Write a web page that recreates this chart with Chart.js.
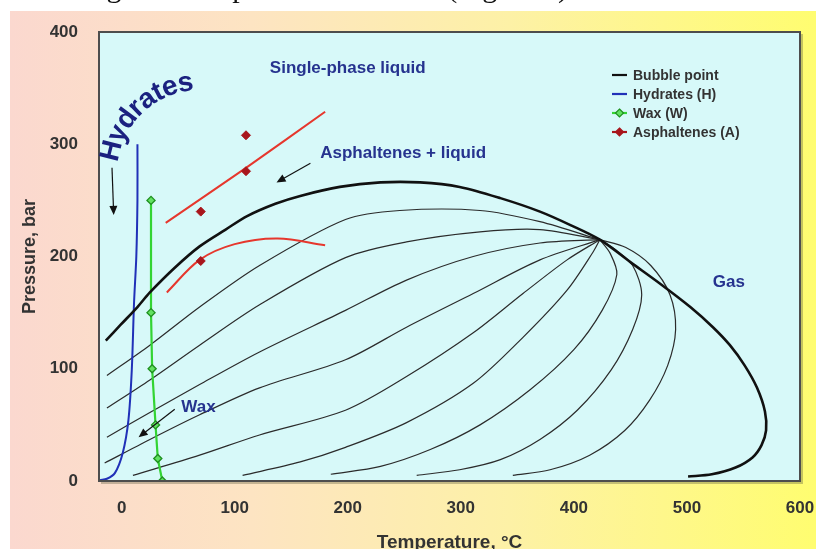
<!DOCTYPE html>
<html>
<head>
<meta charset="utf-8">
<script src="https://cdn.jsdelivr.net/npm/chart.js@4.4.1/dist/chart.umd.min.js"></script>
<style>
  html, body { margin: 0; padding: 0; background: #fff; overflow: hidden; }
  #wrap { position: relative; width: 816px; height: 549px; }
</style>
</head>
<body>
<div id="wrap"><canvas id="c" width="816" height="549"></canvas></div>
<script>
// Axis ticks: temperature (°C) and pressure (bar)
const xTicks = [0, 100, 200, 300, 400, 500, 600];
const yTicks = [0, 100, 200, 300, 400];

// Bubble point / dew point envelope (°C, bar)
const bubbleT = [-14, -1, 14, 25, 47, 69, 92, 111, 136, 158, 193, 229, 264, 299, 335, 370, 397, 423, 450, 476, 503, 523, 538, 551, 562, 569, 570, 566, 558, 543, 522, 501];
const bubbleP = [125, 139, 155, 168, 190, 209, 224, 236, 247, 254, 262, 266, 266, 262, 252, 240, 228, 215, 195, 176, 155, 137, 121, 103, 83, 62, 45, 32, 21, 12, 6, 4];

// Hydrate formation curve
const hydrateT = [-19, -13, -6, 1, 6, 9, 11, 13, 14, 14];
const hydrateP = [1, 2, 7, 25, 54, 99, 159, 200, 250, 300];

// Wax appearance temperatures
const waxT = [26, 26, 27, 30, 32, 36];
const waxP = [250, 150, 100, 50, 20, 0];

// Asphaltene onset measurements
const asphT = [70, 110, 110, 70];
const asphP = [240, 276, 308, 196];

// Asphaltene upper and lower onset boundaries
const asphUpperT = [39, 110, 180];
const asphUpperP = [230, 279, 329];
const asphLowerT = [40, 69, 100, 138, 180];
const asphLowerP = [168, 197, 211, 216, 210];

// Constant liquid-fraction lines inside the two-phase region
const qualityT = [
  [-13, 25, 69, 122, 198, 246, 317, 370, 423],
  [-13, 25, 69, 122, 198, 252, 317, 370, 423],
  [-13, 25, 69, 122, 198, 252, 311, 370, 423],
  [-15, 25, 69, 122, 198, 252, 311, 370, 423],
  [10, 69, 122, 198, 252, 311, 355, 394, 423],
  [107, 158, 198, 252, 311, 355, 394, 417, 423],
  [185, 229, 273, 317, 361, 400, 425, 438, 432, 423],
  [261, 299, 335, 370, 403, 433, 452, 460, 452, 437, 423],
  [346, 379, 414, 445, 467, 483, 490, 485, 468, 446, 423]
];
const qualityP = [
  [94, 121, 155, 192, 233, 241, 241, 231, 215],
  [65, 90, 121, 157, 199, 213, 222, 224, 215],
  [39, 61, 86, 115, 152, 179, 200, 212, 215],
  [16, 37, 59, 83, 108, 137, 167, 197, 215],
  [5, 23, 41, 63, 93, 132, 167, 197, 215],
  [5, 17, 30, 52, 87, 128, 170, 204, 215],
  [6, 13, 28, 50, 81, 117, 152, 184, 203, 215],
  [5, 10, 19, 37, 63, 99, 135, 166, 192, 206, 215],
  [5, 10, 23, 45, 72, 103, 135, 166, 192, 208, 215]
];

const pts = (T, P) => T.map((t, i) => ({ x: t, y: P[i] }));

const NAVY = '#26338f';
const SANS = '"Liberation Sans", Arial, Helvetica, sans-serif';

const datasets = [
  { label: 'Bubble point', data: pts(bubbleT, bubbleP), showLine: true, borderColor: '#111111',
    borderWidth: 2.6, pointRadius: 0, tension: 0.3 },
  { label: 'Hydrates (H)', data: pts(hydrateT, hydrateP), showLine: true, borderColor: '#2031b8',
    borderWidth: 2, pointRadius: 0, tension: 0.3 },
  { label: 'Wax (W)', data: pts(waxT, waxP), showLine: true, borderColor: '#33d433', borderWidth: 2.2,
    tension: 0, pointStyle: 'rectRot', pointRadius: 4, pointBackgroundColor: '#62e262',
    pointBorderColor: '#1f901f', pointBorderWidth: 1.4 },
  { label: 'Asphaltenes (A)', data: pts(asphT, asphP), showLine: false, borderColor: '#a8161c',
    backgroundColor: '#a8161c', pointStyle: 'rectRot', pointRadius: 4.5 },
  { label: 'asph-upper', data: pts(asphUpperT, asphUpperP), showLine: true, borderColor: '#e6372d',
    borderWidth: 2, pointRadius: 0, tension: 0.3 },
  { label: 'asph-lower', data: pts(asphLowerT, asphLowerP), showLine: true, borderColor: '#e6372d',
    borderWidth: 2, pointRadius: 0, tension: 0.35 }
];
qualityT.forEach((T, i) => datasets.push({
  label: 'q' + i, data: pts(T, qualityP[i]), showLine: true, borderColor: '#2b2b2b',
  borderWidth: 1.2, pointRadius: 0, tension: 0.3
}));
const legendCount = 4;

function arrow(ctx, x1, y1, x2, y2) {
  const a = Math.atan2(y2 - y1, x2 - x1), L = 9, W = 4;
  ctx.beginPath(); ctx.moveTo(x1, y1); ctx.lineTo(x2 - L * 0.6 * Math.cos(a), y2 - L * 0.6 * Math.sin(a)); ctx.stroke();
  ctx.beginPath();
  ctx.moveTo(x2, y2);
  ctx.lineTo(x2 - L * Math.cos(a) + W * Math.sin(a), y2 - L * Math.sin(a) - W * Math.cos(a));
  ctx.lineTo(x2 - L * Math.cos(a) - W * Math.sin(a), y2 - L * Math.sin(a) + W * Math.cos(a));
  ctx.closePath(); ctx.fill();
}

function arcText(ctx, text, cx, cy, r, startAng, spacing) {
  let ang = startAng;
  for (const ch of text) {
    const w = ctx.measureText(ch).width;
    ang += (w / 2) / r;
    ctx.save();
    ctx.translate(cx + r * Math.cos(ang), cy + r * Math.sin(ang));
    ctx.rotate(ang + Math.PI / 2);
    ctx.fillText(ch, 0, 0);
    ctx.restore();
    ang += (w / 2 + spacing) / r;
  }
}

const backdrop = {
  id: 'backdrop',
  beforeDraw(chart) {
    const { ctx, chartArea: a, width, height } = chart;
    ctx.save();
    ctx.fillStyle = '#ffffff';
    ctx.fillRect(0, 0, width, height);
    const g = ctx.createLinearGradient(10, 0, width, 0);
    g.addColorStop(0, '#fbd8cf');
    g.addColorStop(0.3, '#fde4c2');
    g.addColorStop(0.62, '#fdf1a6');
    g.addColorStop(1, '#fffd70');
    ctx.fillStyle = g;
    ctx.fillRect(10, 11, width - 10, height - 11);
    // line of page text above the figure
    ctx.font = '30px "Liberation Serif", "Times New Roman", serif';
    ctx.fillStyle = '#111';
    ctx.textAlign = 'right';
    ctx.textBaseline = 'alphabetic';
    ctx.fillText('Solids forming near the phase boundaries (Figure 1)', 568, -3);
    // plot panel
    ctx.fillStyle = 'rgba(90,90,60,0.35)';
    ctx.fillRect(a.left + 2, a.top + 2, a.width + 1, a.height + 1);
    ctx.fillStyle = '#d7f9f9';
    ctx.fillRect(a.left, a.top, a.width, a.height);
    ctx.restore();
  },
  afterDatasetsDraw(chart) {
    const { ctx, chartArea: a, scales: { x, y } } = chart;
    const px = (t) => x.getPixelForValue(t), py = (p) => y.getPixelForValue(p);
    ctx.save();
    ctx.strokeStyle = '#4d4d4d';
    ctx.lineWidth = 2;
    ctx.strokeRect(a.left, a.top, a.width, a.height);

    // region labels
    ctx.fillStyle = NAVY;
    ctx.font = 'bold 17px ' + SANS;
    ctx.textAlign = 'center';
    ctx.textBaseline = 'middle';
    ctx.fillText('Single-phase liquid', px(200), py(368));
    ctx.fillText('Asphaltenes + liquid', px(249), py(292));
    ctx.fillText('Gas', px(537), py(177));
    ctx.fillText('Wax', px(68), py(66));

    // curved hydrate label
    ctx.fillStyle = '#1b2180';
    ctx.font = 'bold 28px ' + SANS;
    arcText(ctx, 'Hydrates', px(69), py(275), 90, 3.27, 0.5);

    // pointer arrows
    ctx.strokeStyle = '#111'; ctx.fillStyle = '#111'; ctx.lineWidth = 1.2;
    arrow(ctx, px(-8.5), py(279), px(-7), py(237));
    arrow(ctx, px(167), py(283), px(137), py(266));
    arrow(ctx, px(47), py(64), px(15), py(39));

    // legend
    ctx.font = 'bold 14px ' + SANS;
    ctx.textAlign = 'left';
    ctx.fillStyle = '#333';
    const lx = 612, ly = 75, gap = 19;
    chart.data.datasets.slice(0, legendCount).forEach((ds, i) => {
      const yy = ly + i * gap;
      ctx.strokeStyle = ds.borderColor;
      ctx.lineWidth = 2.2;
      ctx.beginPath(); ctx.moveTo(lx, yy); ctx.lineTo(lx + 15, yy); ctx.stroke();
      if (ds.pointStyle === 'rectRot') {
        const r = 4;
        ctx.fillStyle = ds.pointBackgroundColor || ds.backgroundColor;
        ctx.strokeStyle = ds.pointBorderColor || ds.borderColor;
        ctx.lineWidth = 1.2;
        ctx.beginPath();
        ctx.moveTo(lx + 7.5, yy - r); ctx.lineTo(lx + 7.5 + r, yy);
        ctx.lineTo(lx + 7.5, yy + r); ctx.lineTo(lx + 7.5 - r, yy); ctx.closePath();
        ctx.fill(); ctx.stroke();
      }
      ctx.fillStyle = '#333';
      ctx.fillText(ds.label, lx + 21, yy + 1);
    });
    ctx.restore();
  }
};

new Chart(document.getElementById('c'), {
  type: 'scatter',
  data: { datasets },
  plugins: [backdrop],
  options: {
    responsive: false,
    animation: false,
    events: [],
    layout: { padding: { left: 10, right: 16, top: 32, bottom: 0 } },
    plugins: { legend: { display: false }, tooltip: { enabled: false } },
    scales: {
      x: {
        type: 'linear', min: -20, max: 600,
        afterBuildTicks: (s) => { s.ticks = xTicks.map(v => ({ value: v })); },
        afterFit: (s) => { s.height = 68; s.paddingLeft = 0; s.paddingRight = 0; },
        grid: { display: false, drawTicks: false },
        border: { display: false },
        ticks: { color: '#333', font: { family: SANS, size: 17, weight: 'bold' }, padding: 17, maxRotation: 0 },
        title: { display: true, text: 'Temperature, °C', color: '#333',
                 font: { family: SANS, size: 19, weight: 'bold' }, padding: { top: 0, bottom: -5 } }
      },
      y: {
        type: 'linear', min: 0, max: 400,
        afterBuildTicks: (s) => { s.ticks = yTicks.map(v => ({ value: v })); },
        afterFit: (s) => { s.width = 89; },
        grid: { display: false, drawTicks: false },
        border: { display: false },
        ticks: { color: '#333', font: { family: SANS, size: 17, weight: 'bold' }, padding: 21 },
        title: { display: true, text: 'Pressure, bar', color: '#333',
                 font: { family: SANS, size: 18, weight: 'bold' }, padding: { top: 9, bottom: 0 } }
      }
    }
  }
});
</script>
</body>
</html>
